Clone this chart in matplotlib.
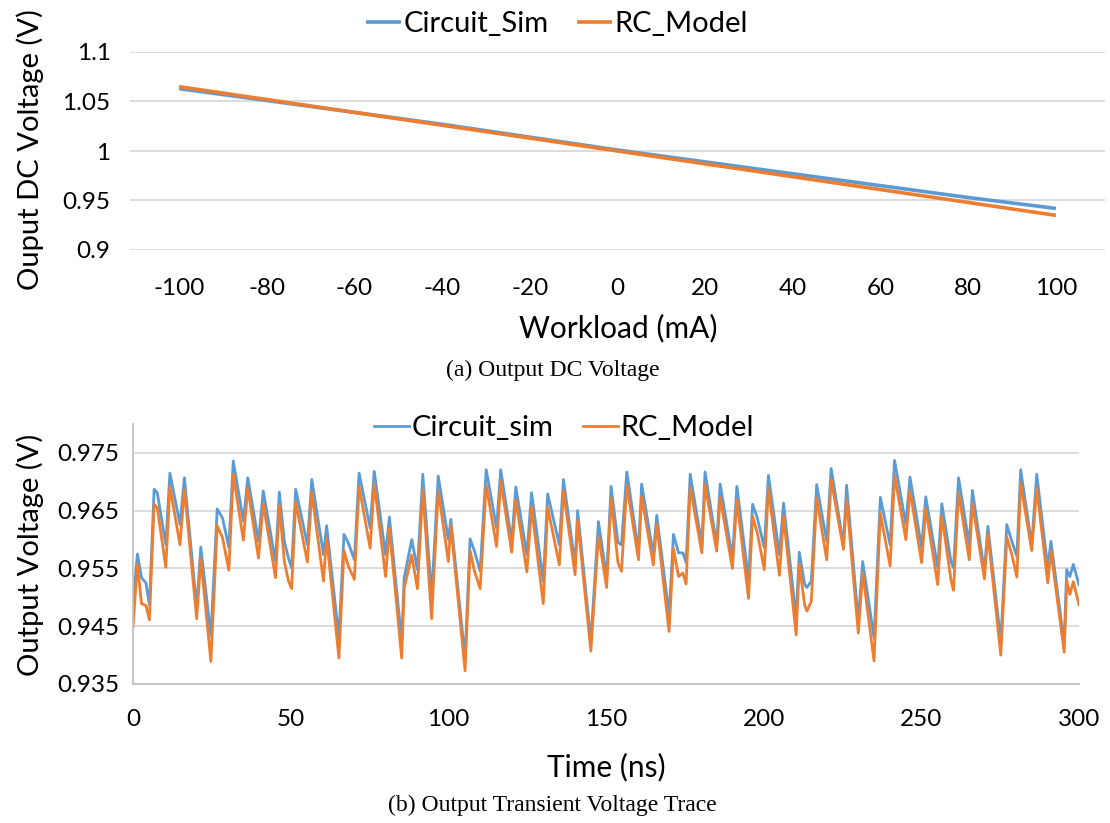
import matplotlib
matplotlib.use("Agg")
import matplotlib.pyplot as plt

# ---------------- (a) DC output voltage vs. workload ----------------
workload_ma = [-100, -80, -60, -40, -20, 0, 20, 40, 60, 80, 100]
dc_circuit_sim = [1.063, 1.051, 1.039, 1.027, 1.014, 1.001, 0.989, 0.977, 0.965, 0.953, 0.942]
dc_rc_model = [1.065, 1.052, 1.039, 1.026, 1.013, 1.000, 0.987, 0.974, 0.961, 0.948, 0.935]
dc_yticks = [0.9, 0.95, 1.0, 1.05, 1.1]
dc_ytick_labels = ["0.9", "0.95", "1", "1.05", "1.1"]

# ---------------- (b) transient output voltage trace ----------------
time_ns = [
    0.0, 1.4, 2.7, 4.1, 5.2, 6.7, 7.7, 10.4, 11.7, 14.9,
    16.3, 20.2, 21.5, 24.7, 26.7, 28.4, 30.4, 31.8, 35.0, 36.4,
    39.8, 41.3, 45.2, 46.4, 48.0, 49.3, 50.3, 51.6, 55.3, 56.7,
    60.4, 61.4, 65.3, 66.9, 68.3, 70.2, 71.7, 75.2, 76.5, 80.1,
    81.3, 85.2, 86.0, 88.4, 90.2, 91.9, 94.7, 96.8, 100.0, 100.8,
    105.3, 106.9, 108.3, 110.1, 112.0, 115.3, 116.6, 120.1, 121.4, 124.9,
    126.4, 130.1, 131.5, 135.2, 136.5, 140.2, 141.0, 145.2, 147.6, 150.2,
    151.6, 153.8, 154.9, 156.6, 160.3, 161.3, 165.0, 166.1, 170.0, 171.4,
    173.0, 174.4, 175.4, 176.7, 180.4, 181.4, 185.1, 186.2, 190.1, 191.5,
    195.2, 196.5, 198.0, 200.2, 201.5, 205.0, 206.3, 210.3, 211.3, 213.0,
    213.7, 215.1, 216.8, 220.0, 221.4, 225.3, 226.3, 230.0, 231.4, 235.0,
    237.0, 240.1, 241.5, 245.1, 246.4, 250.1, 251.4, 255.2, 256.5, 259.4,
    260.2, 261.8, 265.2, 266.2, 270.0, 271.1, 275.2, 277.1, 278.7, 280.3,
    281.5, 285.0, 286.6, 290.1, 291.1, 295.3, 296.1, 297.1, 298.2, 300.0,
]
tr_circuit_sim = [
    0.9490, 0.9575, 0.9534, 0.9525, 0.9487, 0.9687, 0.9681, 0.9591, 0.9715, 0.9626,
    0.9707, 0.9482, 0.9587, 0.9433, 0.9653, 0.9637, 0.9586, 0.9736, 0.9632, 0.9707,
    0.9597, 0.9684, 0.9562, 0.9682, 0.9597, 0.9568, 0.9551, 0.9687, 0.9591, 0.9704,
    0.9574, 0.9624, 0.9430, 0.9609, 0.9594, 0.9565, 0.9715, 0.9620, 0.9718, 0.9574,
    0.9639, 0.9424, 0.9534, 0.9600, 0.9548, 0.9713, 0.9502, 0.9710, 0.9600, 0.9635,
    0.9395, 0.9601, 0.9580, 0.9545, 0.9721, 0.9620, 0.9721, 0.9597, 0.9691, 0.9574,
    0.9681, 0.9528, 0.9679, 0.9591, 0.9704, 0.9557, 0.9650, 0.9424, 0.9631, 0.9534,
    0.9692, 0.9595, 0.9591, 0.9717, 0.9580, 0.9696, 0.9574, 0.9642, 0.9470, 0.9609,
    0.9577, 0.9577, 0.9560, 0.9713, 0.9591, 0.9717, 0.9591, 0.9696, 0.9568, 0.9692,
    0.9531, 0.9661, 0.9637, 0.9586, 0.9711, 0.9574, 0.9663, 0.9464, 0.9578, 0.9522,
    0.9517, 0.9528, 0.9695, 0.9597, 0.9723, 0.9591, 0.9694, 0.9459, 0.9562, 0.9430,
    0.9673, 0.9591, 0.9737, 0.9626, 0.9708, 0.9586, 0.9674, 0.9551, 0.9662, 0.9562,
    0.9551, 0.9707, 0.9591, 0.9685, 0.9545, 0.9623, 0.9424, 0.9626, 0.9597, 0.9571,
    0.9721, 0.9591, 0.9713, 0.9551, 0.9597, 0.9420, 0.9548, 0.9536, 0.9557, 0.9522,
]
tr_rc_model = [
    0.9450, 0.9557, 0.9489, 0.9486, 0.9461, 0.9661, 0.9655, 0.9552, 0.9692, 0.9591,
    0.9687, 0.9463, 0.9567, 0.9389, 0.9624, 0.9603, 0.9547, 0.9713, 0.9599, 0.9689,
    0.9568, 0.9662, 0.9534, 0.9659, 0.9562, 0.9528, 0.9515, 0.9665, 0.9561, 0.9682,
    0.9528, 0.9604, 0.9395, 0.9581, 0.9554, 0.9531, 0.9692, 0.9585, 0.9698, 0.9536,
    0.9620, 0.9395, 0.9516, 0.9573, 0.9515, 0.9687, 0.9463, 0.9685, 0.9562, 0.9625,
    0.9373, 0.9581, 0.9545, 0.9515, 0.9695, 0.9588, 0.9702, 0.9578, 0.9669, 0.9544,
    0.9656, 0.9489, 0.9656, 0.9556, 0.9684, 0.9539, 0.9633, 0.9407, 0.9607, 0.9517,
    0.9672, 0.9560, 0.9545, 0.9694, 0.9565, 0.9675, 0.9556, 0.9627, 0.9441, 0.9584,
    0.9536, 0.9542, 0.9523, 0.9691, 0.9577, 0.9695, 0.9580, 0.9673, 0.9550, 0.9669,
    0.9498, 0.9640, 0.9611, 0.9548, 0.9689, 0.9538, 0.9640, 0.9435, 0.9557, 0.9487,
    0.9476, 0.9493, 0.9672, 0.9565, 0.9704, 0.9583, 0.9671, 0.9438, 0.9543, 0.9390,
    0.9646, 0.9554, 0.9711, 0.9600, 0.9685, 0.9560, 0.9654, 0.9522, 0.9642, 0.9530,
    0.9512, 0.9681, 0.9565, 0.9663, 0.9532, 0.9610, 0.9400, 0.9604, 0.9574, 0.9535,
    0.9698, 0.9581, 0.9689, 0.9525, 0.9581, 0.9405, 0.9529, 0.9505, 0.9527, 0.9487,
]
tr_xticks = [0, 50, 100, 150, 200, 250, 300]
tr_yticks = [0.935, 0.945, 0.955, 0.965, 0.975]

BLUE = "#5B9BD5"
ORANGE = "#ED7D31"
GRID = "#D9D9D9"
AXIS = "#BFBFBF"
SANS = ["Lato", "DejaVu Sans"]
SERIF = ["Liberation Serif", "DejaVu Serif"]

W, H = 1110, 823
fig = plt.figure(figsize=(W / 100, H / 100), dpi=100)


def box(left, top, right, bottom):
    return [left / W, 1 - bottom / H, (right - left) / W, (bottom - top) / H]


def fx(x):
    return x / W


def fy(y):
    return 1 - y / H


# ---- panel (a)
ax1 = fig.add_axes(box(130, 52, 1105, 250))
ax1.plot(workload_ma, dc_circuit_sim, color=BLUE, lw=2.6, label="Circuit_Sim",
         solid_capstyle="butt")
ax1.plot(workload_ma, dc_rc_model, color=ORANGE, lw=2.6, label="RC_Model",
         solid_capstyle="butt")
ax1.set_xlim(-111.2, 111.2)
ax1.set_ylim(0.9, 1.1)
ax1.set_xticks(workload_ma)
ax1.set_xticklabels([str(v) for v in workload_ma])
ax1.set_yticks(dc_yticks)
ax1.set_yticklabels(dc_ytick_labels)
for s in ax1.spines.values():
    s.set_visible(False)
ax1.grid(axis="y", color=GRID, lw=1.3)
ax1.set_axisbelow(True)
ax1.tick_params(axis="both", length=0, labelsize=17.5, colors="#000000")
ax1.tick_params(axis="x", pad=20)
ax1.tick_params(axis="y", pad=14)
for lab in ax1.get_xticklabels() + ax1.get_yticklabels():
    lab.set_family(SANS)
ax1.legend(loc="center", bbox_to_anchor=(fx(557), fy(24)), bbox_transform=fig.transFigure,
           ncol=2, frameon=False, prop={"family": SANS, "size": 21},
           handlelength=1.2, handletextpad=0.08, columnspacing=1.0, borderpad=0)
fig.text(fx(30), fy(150), "Ouput DC Voltage (V)", rotation=90, ha="center", va="center",
         family=SANS, fontsize=21)
fig.text(fx(618), fy(328), "Workload (mA)", ha="center", va="center", family=SANS, fontsize=21.5)
fig.text(fx(553), fy(370), "(a) Output DC Voltage", ha="center", va="center",
         family=SERIF, fontsize=17)

# ---- panel (b)
ax2 = fig.add_axes(box(133, 424, 1079, 684))
ax2.plot(time_ns, tr_circuit_sim, color=BLUE, lw=2.0, label="Circuit_sim",
         solid_joinstyle="round")
ax2.plot(time_ns, tr_rc_model, color=ORANGE, lw=2.0, label="RC_Model",
         solid_joinstyle="round")
ax2.set_xlim(0, 300)
ax2.set_ylim(0.935, 0.98)
ax2.set_xticks(tr_xticks)
ax2.set_xticklabels([str(v) for v in tr_xticks])
ax2.set_yticks(tr_yticks)
ax2.set_yticklabels(["%.3f" % v for v in tr_yticks])
for side in ("top", "right"):
    ax2.spines[side].set_visible(False)
for side in ("left", "bottom"):
    ax2.spines[side].set_color(AXIS)
    ax2.spines[side].set_linewidth(1.2)
ax2.grid(axis="y", color=GRID, lw=1.3)
ax2.set_axisbelow(True)
ax2.tick_params(axis="both", length=0, labelsize=17.5, colors="#000000")
ax2.tick_params(axis="x", pad=18)
ax2.tick_params(axis="y", pad=10)
for lab in ax2.get_xticklabels() + ax2.get_yticklabels():
    lab.set_family(SANS)
ax2.legend(loc="center", bbox_to_anchor=(fx(564), fy(428)), bbox_transform=fig.transFigure,
           ncol=2, frameon=False, prop={"family": SANS, "size": 21},
           handlelength=1.2, handletextpad=0.08, columnspacing=1.0, borderpad=0)
fig.text(fx(30), fy(555), "Output Voltage (V)", rotation=90, ha="center", va="center",
         family=SANS, fontsize=21)
fig.text(fx(606), fy(767), "Time (ns)", ha="center", va="center", family=SANS, fontsize=21.5)
fig.text(fx(552), fy(805), "(b) Output Transient Voltage Trace", ha="center", va="center",
         family=SERIF, fontsize=17)

fig.savefig("out.png", dpi=100, facecolor="white")
